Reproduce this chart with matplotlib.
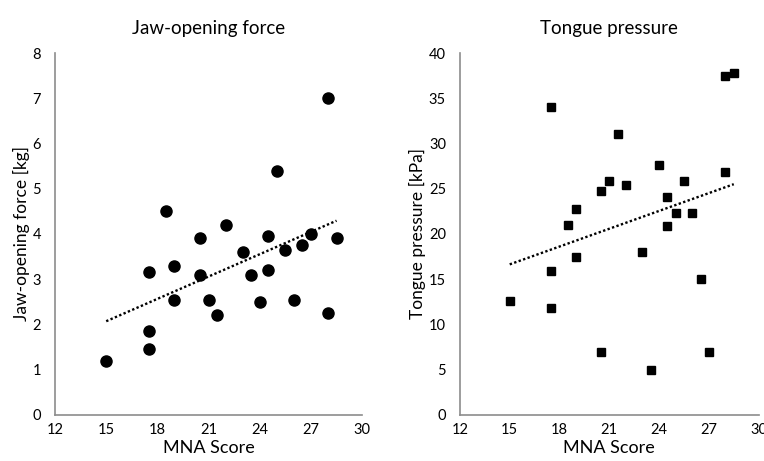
import numpy as np
import matplotlib
matplotlib.use('Agg')
import matplotlib.pyplot as plt

plt.rcParams['font.family'] = ['Lato', 'DejaVu Sans']

# dane
mna_jaw = [15, 17.5, 17.5, 17.5, 18.5, 19, 19, 20.5, 20.5, 21, 21.5, 22, 23,
           23.5, 24, 24.5, 24.5, 25, 25.5, 26, 26.5, 27, 28, 28, 28.5]
jaw_force = [1.2, 1.45, 1.85, 3.15, 4.5, 3.3, 2.55, 3.9, 3.1, 2.55, 2.2, 4.2, 3.6,
             3.1, 2.5, 3.95, 3.2, 5.4, 3.65, 2.55, 3.75, 4.0, 7.0, 2.25, 3.9]

mna_tongue = [15, 17.5, 17.5, 17.5, 18.5, 19, 19, 20.5, 20.5, 21, 21.5, 22, 23,
              23.5, 24, 24.5, 24.5, 25, 25.5, 26, 26.5, 27, 28, 28, 28.5]
tongue_pressure = [12.6, 34, 15.9, 11.8, 21, 22.8, 17.4, 24.8, 7.0, 25.9, 31, 25.4, 18,
                   5, 27.6, 24.1, 20.9, 22.3, 25.9, 22.3, 15, 6.9, 26.8, 37.5, 37.8]

x_ticks = [12, 15, 18, 21, 24, 27, 30]


def draw_panel(ax, x, y, marker, ms, title, ylabel, yticks):
    ax.plot(x, y, marker, color='black', ms=ms, linestyle='none', zorder=3)
    # linia trendu (regresja liniowa)
    a, b = np.polyfit(x, y, 1)
    xs = np.array([min(x), max(x)])
    ax.plot(xs, a * xs + b, color='black', lw=1.7, linestyle=(0, (1, 1)), zorder=2)

    ax.set_xlim(12, 30)
    ax.set_ylim(yticks[0], yticks[-1])
    ax.set_xticks(x_ticks)
    ax.set_yticks(yticks)
    ax.tick_params(axis='x', length=0, labelsize=10.5, pad=6)
    ax.tick_params(axis='y', length=0, labelsize=10.5, pad=10)
    ax.set_xlabel('MNA Score', fontsize=13, labelpad=2)
    ax.set_ylabel(ylabel, fontsize=12.5, labelpad=2)
    ax.set_title(title, fontsize=13.5, pad=14)
    for s in ['top', 'right']:
        ax.spines[s].set_visible(False)
    for s in ['left', 'bottom']:
        ax.spines[s].set_color('#8c8c8c')
        ax.spines[s].set_linewidth(1.2)


fig = plt.figure(figsize=(7.64, 4.61), dpi=100)
ax1 = fig.add_axes([0.072, 0.10, 0.402, 0.785])
ax2 = fig.add_axes([0.602, 0.10, 0.391, 0.785])

draw_panel(ax1, mna_jaw, jaw_force, 'o', 8, 'Jaw-opening force',
           'Jaw-opening force [kg]', list(range(0, 9)))
draw_panel(ax2, mna_tongue, tongue_pressure, 's', 6.2, 'Tongue pressure',
           'Tongue pressure [kPa]', list(range(0, 41, 5)))

fig.savefig('out.png', dpi=100)
